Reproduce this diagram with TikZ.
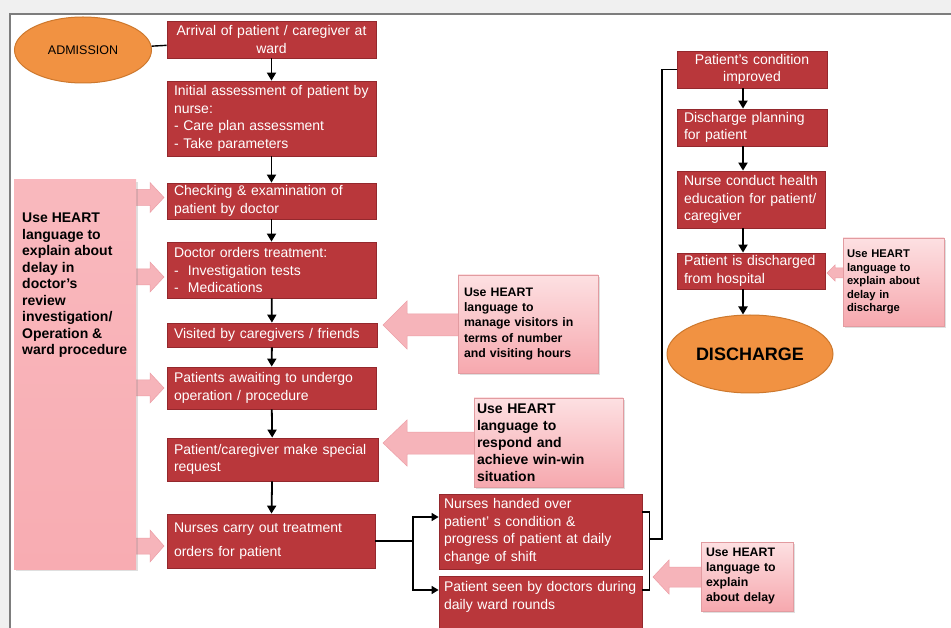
\documentclass[tikz,border=0pt]{standalone}
\usepackage{fontspec}
\setmainfont{Liberation Sans}
\usetikzlibrary{shapes.geometric, arrows.meta, calc, shadows}
\hyphenpenalty=10000
\exhyphenpenalty=10000
\definecolor{rfill}{RGB}{185,55,59}
\definecolor{rdraw}{RGB}{148,40,45}
\definecolor{ntop}{RGB}{253,224,226}
\definecolor{nbot}{RGB}{246,168,174}
\definecolor{lfill}{RGB}{248,172,178}
\definecolor{afill}{RGB}{246,180,186}
\definecolor{adraw}{RGB}{236,158,166}
\definecolor{ofill}{RGB}{241,146,66}
\definecolor{odraw}{RGB}{205,120,45}
\definecolor{framecol}{RGB}{125,125,125}
\definecolor{outer}{RGB}{240,240,240}
% tip x, centre y, tail x, signed head length, head half height, body half height
\newcommand\hrtarrow[6]{%
  \filldraw[blockarr] (#1,#2) -- ({#1+#4},{#2-#5}) -- ({#1+#4},{#2-#6}) -- (#3,{#2-#6})
   -- (#3,{#2+#6}) -- ({#1+#4},{#2+#6}) -- ({#1+#4},{#2+#5}) -- cycle;}
\begin{document}
\begin{tikzpicture}[x=1pt,y=-1pt,
  rb/.style={draw=rdraw, line width=0.8pt, fill=rfill, text=white, inner xsep=7pt, inner ysep=1pt,
    font=\fontsize{14}{17.5}\selectfont, align=left,
    drop shadow={shadow xshift=1.2pt, shadow yshift=-1.2pt, opacity=0.25}},
  note/.style={draw=nbot!80!black!40!nbot, line width=0.4pt, top color=ntop, bottom color=nbot,
    inner xsep=4pt, inner ysep=1pt, align=left,
    drop shadow={shadow xshift=2pt, shadow yshift=-2pt, opacity=0.25}},
  oval/.style={ellipse, draw=odraw, line width=1pt, fill=ofill, inner sep=0pt},
  blockarr/.style={fill=afill, draw=adraw, line width=0.5pt},
  conn/.style={draw=black, line width=1.8pt, -{Triangle[length=8pt,width=9pt]}},
  conn2/.style={draw=black, line width=1.4pt, -{Triangle[length=7pt,width=8pt]}},
  plain/.style={draw=black, line width=1.4pt}
]
\useasboundingbox (0,0) rectangle (951,628);
\clip (0,0) rectangle (951,628);
\fill[outer] (0,0) rectangle (951,628);
\fill[white] (10,14) rectangle (951,628);
\draw[framecol, line width=1.6pt] (10,640) -- (10,14) -- (960,14);

% block arrows (drawn first, notes lie on top of their tails)
\hrtarrow{164}{197.5}{134}{-14}{15}{8}
\hrtarrow{164}{277}{134}{-14}{15}{8}
\hrtarrow{164}{388}{134}{-14}{15}{8}
\hrtarrow{164}{546}{134}{-14}{16}{8}
\hrtarrow{383}{325}{460}{24}{24}{11}
\hrtarrow{383}{443}{476}{24}{23}{11}
\hrtarrow{653}{577}{703}{16}{17}{10}
\hrtarrow{827}{273}{845}{8}{8}{5}

% admission
\node[oval, minimum width=137, minimum height=66, font=\fontsize{12.5}{14}\selectfont] (adm) at (83,50) {ADMISSION};

% left column boxes
\node[rb, align=center, minimum width=209, minimum height=37, text width=195] (b1) at (271.5,39.5)
  {Arrival of patient / caregiver at\\ward};
\node[rb, minimum width=209, minimum height=75, text width=195] (b2) at (271.5,118.5)
  {Initial assessment of patient by\\nurse:\\- Care plan assessment\\- Take parameters};
\node[rb, minimum width=209, minimum height=36, text width=195] (b3) at (271.5,201)
  {Checking \& examination of\\patient by doctor};
\node[rb, minimum width=209, minimum height=56, text width=195] (b4) at (271.5,270)
  {Doctor orders treatment:\\- \ Investigation tests\\- \ Medications};
\node[rb, minimum width=210, minimum height=24, text width=196] (b5) at (272,335)
  {Visited by caregivers / friends};
\node[rb, minimum width=209, minimum height=42, text width=195] (b6) at (271.5,388)
  {Patients awaiting to undergo\\operation / procedure};
\node[rb, minimum width=211, minimum height=43, text width=197] (b7) at (272.5,459.5)
  {Patient/caregiver make special\\request};
\node[rb, minimum width=208, minimum height=54, text width=194] (b8) at (271,541)
  {Nurses carry out treatment\\[7pt]orders for patient};

% branch boxes
\node[rb, inner xsep=5pt, minimum width=203, minimum height=75, text width=193] (b9) at (540.5,531.5)
  {Nurses handed over\\patient’ s condition \&\\progress of patient at daily\\change of shift};
\node[rb, inner xsep=5pt, minimum width=203, minimum height=64, text width=193] (b10) at (540.5,608)
  {Patient seen by doctors during\\daily ward rounds\\[8pt]\mbox{}};

% right column
\node[rb, align=center, minimum width=150, minimum height=37, text width=136] (r1) at (752,69.5)
  {Patient's condition\\improved};
\node[rb, minimum width=150, minimum height=37, text width=136] (r2) at (752,127.5)
  {Discharge planning\\for patient};
\node[rb, minimum width=148, minimum height=57, text width=134] (r3) at (751,199.5)
  {Nurse conduct health\\education for patient/\\caregiver};
\node[rb, minimum width=148, minimum height=36, text width=134] (r4) at (751,271)
  {Patient is discharged\\from hospital};
\node[oval, minimum width=166, minimum height=78, font=\bfseries\fontsize{18}{20}\selectfont] (dis) at (750,354) {DISCHARGE};

% notes
\node[note, draw=none, top color=lfill!85!white, bottom color=lfill, minimum width=122, minimum height=389] (nL) at (75,374.5) {};
\node[anchor=north west, inner sep=0pt, align=left, font=\bfseries\fontsize{14}{16.5}\selectfont] (nLt) at (22,213)
  {Use HEART\\language to\\explain about\\delay in\\doctor's\\review\\investigation/\\Operation \&\\ward procedure};
\node[note, minimum width=140, minimum height=98, text width=128, inner xsep=6pt, font=\bfseries\fontsize{12.3}{15.3}\selectfont] (n1) at (528,324)
  {Use HEART\\language to\\manage visitors in\\terms of number\\and visiting hours};
\node[note, minimum width=149, minimum height=89, text width=143, inner xsep=3pt, font=\bfseries\fontsize{14}{17}\selectfont] (n2) at (548.5,442.5)
  {Use HEART\\language to\\respond and\\achieve win-win\\situation};
\node[note, minimum width=92, minimum height=69, text width=82, inner xsep=5pt, font=\bfseries\fontsize{12.3}{15}\selectfont] (n3) at (747,576.5)
  {Use HEART\\language to\\explain\\about delay};
\node[note, minimum width=101, minimum height=88, text width=93, inner xsep=4pt, font=\bfseries\fontsize{11.2}{13.5}\selectfont] (n4) at (893.5,282)
  {Use HEART\\language to\\explain about\\delay in\\discharge};

% connectors
\draw[plain] (adm) -- (b1);
\draw[conn] (b1) -- (b2);
\draw[conn] (b2) -- (b3);
\draw[conn] (b3) -- (b4);
\draw[conn] (b4) -- (b5);
\draw[conn] (b5) -- (b6);
\draw[conn] (b6) -- (b7);
\draw[conn] (b7) -- (b8);
\coordinate (br) at (413,541);
\draw[plain] (b8.east) -- (br);
\draw[conn2] (br) |- ($(b9.west)+(0,-14.5)$);
\draw[conn2] (br) |- ($(b10.west)+(0,-18)$);
\coordinate (bk) at (649,539);
\draw[plain] ($(b9.east)+(0,-19.5)$) -- ++(7,0) |- ($(b10.east)+(0,-18)$);
\draw[plain] (bk) -- (662,539) |- (r1.west);
\draw[conn] ($(r1.south)+(-9,0)$) -- ($(r2.north)+(-9,0)$);
\draw[conn] ($(r2.south)+(-9,0)$) -- ($(r3.north)+(-8,0)$);
\draw[conn] ($(r3.south)+(-8,0)$) -- ($(r4.north)+(-8,0)$);
\draw[conn] ($(r4.south)+(-8,0)$) -- ($(dis.north)+(-7,0)$);
\end{tikzpicture}
\end{document}
